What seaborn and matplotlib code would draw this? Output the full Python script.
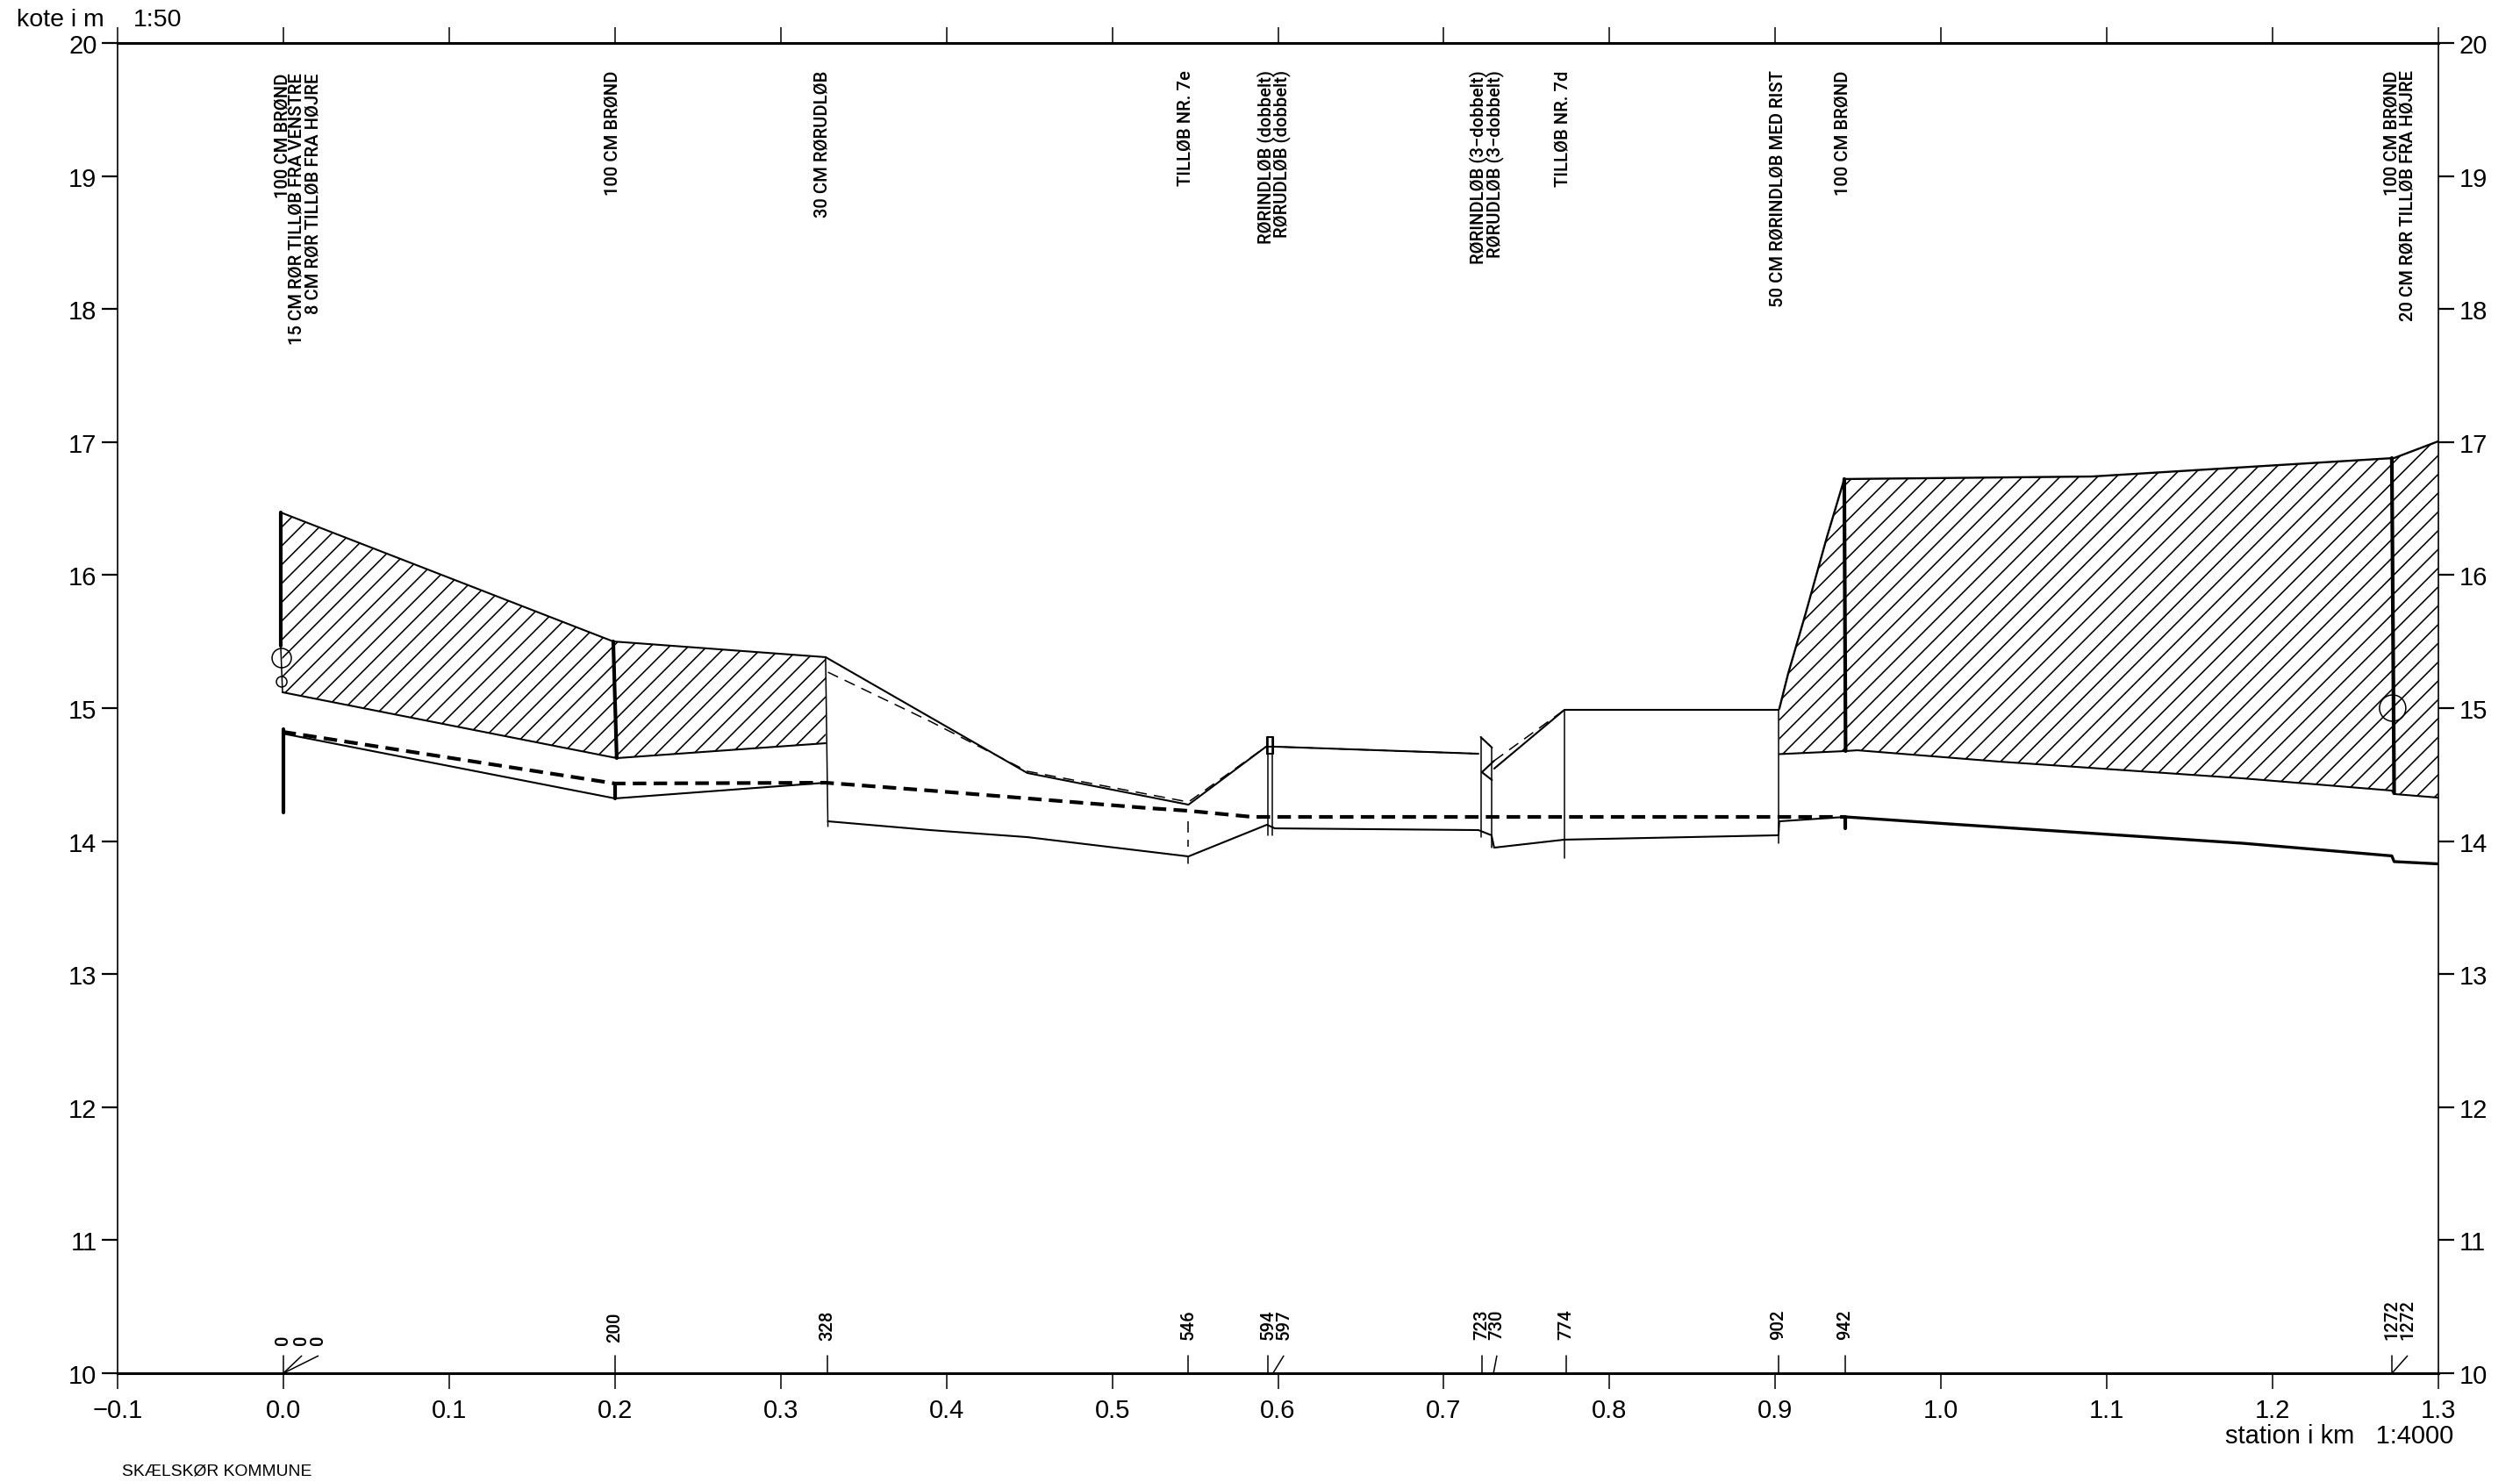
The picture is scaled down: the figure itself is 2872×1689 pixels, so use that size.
import numpy as np
import matplotlib
matplotlib.use("Agg")
import matplotlib.pyplot as plt
import seaborn as sns

# --- axes labels
x_ticks = [-0.1, 0.0, 0.1, 0.2, 0.3, 0.4, 0.5, 0.6, 0.7, 0.8, 0.9, 1.0, 1.1, 1.2, 1.3]
x_tick_labels = ["\u22120.1", "0.0", "0.1", "0.2", "0.3", "0.4", "0.5", "0.6", "0.7", "0.8", "0.9", "1.0", "1.1", "1.2", "1.3"]
y_ticks = [10, 11, 12, 13, 14, 15, 16, 17, 18, 19, 20]

# --- hatched cover bands
band1_top_x = [-0.0016, 0.199, 0.3271]
band1_top_y = [16.471, 15.501, 15.383]
band1_bot_x = [-0.0005, 0.2011, 0.3271]
band1_bot_y = [15.119, 14.624, 14.736]

band2_top_x = [0.9024, 0.9077, 0.9183, 0.9310, 0.9416, 1.0909, 1.2733, 1.2998]
band2_top_y = [14.994, 15.257, 15.712, 16.280, 16.722, 16.741, 16.880, 17.005]
band2_bot_x = [0.9024, 0.9424, 0.9495, 1.0348, 1.1819, 1.2719, 1.2733, 1.2998]
band2_bot_y = [14.654, 14.677, 14.683, 14.598, 14.472, 14.380, 14.354, 14.327]

# --- terrain line and its dashed companion
terrain1_x = [0.3271, 0.4488, 0.5460, 0.5928, 0.5981, 0.7209]
terrain1_y = [15.383, 14.512, 14.274, 14.710, 14.710, 14.657]
terrain2_x = [0.7304, 0.7728, 0.9019]
terrain2_y = [14.545, 14.987, 14.987]
terrain_dash_x = [0.3285, 0.3901, 0.4488, 0.5460, 0.5928, 0.5981, 0.7209]
terrain_dash_y = [15.270, 14.901, 14.525, 14.294, 14.710, 14.710, 14.657]
terrain_dash2_x = [0.7304, 0.7728]
terrain_dash2_y = [14.604, 14.987]

# --- pipe invert
invert1_x = [-0.0005, 0.2001, 0.3271]
invert1_y = [14.809, 14.321, 14.439]
invert2_x = [0.3285, 0.3901, 0.4488, 0.5460, 0.5933, 0.5981, 0.7209, 0.7288, 0.7304, 0.7728, 0.9019, 0.9024, 0.9424]
invert2_y = [14.149, 14.083, 14.030, 13.885, 14.123, 14.096, 14.083, 14.044, 13.951, 14.011, 14.044, 14.149, 14.182]

# --- water level (thick dashed, then merged with the invert)
water_x = [-0.0005, 0.2001, 0.3271, 0.3901, 0.5219, 0.5460, 0.5846, 0.9424]
water_y = [14.822, 14.433, 14.439, 14.380, 14.248, 14.228, 14.182, 14.182]
water_end_x = [0.9424, 1.0051, 1.1819, 1.2719, 1.2733, 1.2998]
water_end_y = [14.182, 14.129, 13.984, 13.889, 13.846, 13.829]

# --- structure verticals: x0, y0, x1, y1
thick_x0 = [-0.0016, 0.0000, 0.1990, 0.2001, 0.9416, 1.2719, 0.9424]
thick_y0 = [16.471, 14.842, 15.501, 14.433, 16.722, 16.880, 14.182]
thick_x1 = [-0.0016, 0.0000, 0.2011, 0.2001, 0.9424, 1.2733, 0.9424]
thick_y1 = [15.468, 14.215, 14.624, 14.321, 14.677, 14.360, 14.096]
thin_x0 = [-0.0016, 0.3271, 0.5460, 0.5939, 0.5963, 0.7223, 0.7291, 0.7728, 0.9019]
thin_y0 = [15.468, 15.383, 13.885, 14.782, 14.782, 14.782, 14.703, 14.987, 14.987]
thin_x1 = [-0.0005, 0.3285, 0.5460, 0.5939, 0.5963, 0.7223, 0.7291, 0.7728, 0.9019]
thin_y1 = [15.119, 14.110, 13.832, 14.044, 14.044, 14.030, 13.951, 13.872, 13.984]

well_x = [0.5933, 0.5933, 0.5973, 0.5973, 0.5933]
well_y = [14.657, 14.782, 14.782, 14.657, 14.657]
tri_x = [0.7223, 0.7291]
tri_y = [14.782, 14.703]
rhomb_x = [0.7304, 0.7230, 0.7291]
rhomb_y = [14.604, 14.518, 14.459]
dash_stub_x = [0.5460, 0.5460]
dash_stub_y = [14.149, 13.96]

circle_x = [-0.0010, -0.0010, 1.2724]
circle_y = [15.376, 15.198, 15.000]
circle_s = [250, 75, 467]

# --- top annotations
top_labels = ["100 CM BR\u00d8ND", "15 CM R\u00d8R TILL\u00d8B FRA VENSTRE", "8 CM R\u00d8R TILL\u00d8B FRA H\u00d8JRE",
              "100 CM BR\u00d8ND", "30 CM R\u00d8RUDL\u00d8B", "TILL\u00d8B NR. 7e",
              "R\u00d8RINDL\u00d8B (dobbelt)", "R\u00d8RUDL\u00d8B (dobbelt)",
              "R\u00d8RINDL\u00d8B (3\u2212dobbelt)", "R\u00d8RUDL\u00d8B (3\u2212dobbelt)", "TILL\u00d8B NR. 7d",
              "50 CM R\u00d8RINDL\u00d8B MED RIST", "100 CM BR\u00d8ND", "100 CM BR\u00d8ND", "20 CM R\u00d8R TILL\u00d8B FRA H\u00d8JRE"]
top_label_x = [-0.0005, 0.0079, 0.018, 0.1985, 0.3252, 0.5441, 0.5928, 0.6023, 0.7209, 0.7309, 0.7717, 0.9014, 0.9405, 1.2719, 1.2814]
top_label_y = [19.78, 19.78, 19.78, 19.80, 19.80, 19.80, 19.80, 19.80, 19.80, 19.80, 19.80, 19.80, 19.80, 19.80, 19.80]

# --- stations along the bottom
stations = ["0", "0", "0", "200", "328", "546", "594", "597", "723", "730", "774", "902", "942", "1272", "1272"]
station_x = [0.0, 0.0, 0.0, 0.200, 0.328, 0.546, 0.594, 0.597, 0.723, 0.730, 0.774, 0.902, 0.942, 1.272, 1.272]
station_label_x = [0.0, 0.011, 0.021, 0.200, 0.328, 0.546, 0.594, 0.6034, 0.723, 0.7320, 0.774, 0.902, 0.942, 1.272, 1.2813]
station_label_y = [10.22, 10.22, 10.22, 10.24, 10.25, 10.26, 10.26, 10.26, 10.26, 10.26, 10.26, 10.26, 10.26, 10.26, 10.26]

W, H = 2872, 1690
L, R, T, B = 134, 2779, 50, 1566

sns.set_theme(style="white", rc={"axes.edgecolor": "black"})
plt.rcParams["font.family"] = ["Liberation Sans", "DejaVu Sans"]

fig = plt.figure(figsize=(W / 100, H / 100), dpi=100, facecolor="white")
ax = fig.add_axes([L / W, 1 - B / H, (R - L) / W, (B - T) / H])
ax.set_xlim(-0.1, 1.3)
ax.set_ylim(10, 20)


def trace(xs, ys, lw=1.3, ls="-"):
    sns.lineplot(x=np.array(xs), y=np.array(ys), sort=False, estimator=None, errorbar=None,
                 color="black", linewidth=lw, linestyle=ls, ax=ax, legend=False)


def hatch_band(tx, ty, bx, by):
    px = list(tx) + list(bx)[::-1]
    py = list(ty) + list(by)[::-1]
    poly = ax.fill(px, py, facecolor="none", edgecolor="none")[0]
    # 45 degree screen-space hatch, about 21.4 px apart horizontally
    slope = ((R - L) / 1.4) / ((B - T) / 10.0)
    for x0 in np.arange(0.4970 - 0.01133 * 130, 1.45, 0.01133):
        ln = ax.axline((x0, 10.0), slope=slope, color="black", lw=1.15)
        ln.set_clip_path(poly)


hatch_band(band1_top_x, band1_top_y, band1_bot_x, band1_bot_y)
hatch_band(band2_top_x, band2_top_y, band2_bot_x, band2_bot_y)

for xs, ys in [(band1_top_x, band1_top_y), (band1_bot_x, band1_bot_y),
               (band2_bot_x, band2_bot_y), (terrain1_x, terrain1_y), (terrain2_x, terrain2_y),
               (invert1_x, invert1_y), (invert2_x, invert2_y),
               (well_x, well_y), (tri_x, tri_y), (rhomb_x, rhomb_y)]:
    trace(xs, ys, lw=1.5)
trace(band2_top_x, band2_top_y, lw=1.7)
trace(terrain_dash_x, terrain_dash_y, lw=1.1, ls=(0, (8.4, 5.4)))
trace(terrain_dash2_x, terrain_dash2_y, lw=1.1, ls=(0, (8.4, 5.4)))
trace(dash_stub_x, dash_stub_y, lw=1.1, ls=(0, (8.4, 5.4)))
trace(water_x, water_y, lw=3.0, ls=(0, (3.7, 2.0)))
trace(water_end_x, water_end_y, lw=2.4)

for x0, y0, x1, y1 in zip(thick_x0, thick_y0, thick_x1, thick_y1):
    trace([x0, x1], [y0, y1], lw=3.0)
for x0, y0, x1, y1 in zip(thin_x0, thin_y0, thin_x1, thin_y1):
    trace([x0, x1], [y0, y1], lw=1.1)

for x, y, s in zip(circle_x, circle_y, circle_s):
    ax.scatter([x], [y], s=s, facecolors="none", edgecolors="black", linewidths=1.1, zorder=4)

label_font = dict(fontsize=14.6, family=["Roboto", "DejaVu Sans"], fontweight="medium", color="black")
for s, x, y in zip(top_labels, top_label_x, top_label_y):
    ax.text(x, y, s, rotation=90, ha="center", va="top", **label_font)

for s, x, lx, y in zip(stations, station_x, station_label_x, station_label_y):
    ax.text(lx, y, s, rotation=90, ha="center", va="bottom", **label_font)
    trace([x, lx], [10.0, 10.13], lw=1.1)

ax.set_xticks(x_ticks)
ax.set_xticklabels(x_tick_labels)
ax.set_yticks(y_ticks)
ax.tick_params(axis="x", which="major", direction="out", length=13, width=1.1, top=True, bottom=True,
               labeltop=False, labelbottom=True, labelsize=21, pad=7, color="black", labelcolor="black")
ax.tick_params(axis="y", which="major", direction="out", length=13, width=1.6, left=True, right=True,
               labelleft=True, labelright=True, labelsize=21, pad=4, color="black", labelcolor="black")
for side, lw in [("top", 2.2), ("bottom", 2.2), ("left", 1.2), ("right", 1.2)]:
    ax.spines[side].set_visible(True)
    ax.spines[side].set_linewidth(lw)
    ax.spines[side].set_color("black")
ax.grid(False)
ax.set_xlabel("")
ax.set_ylabel("")

fig.text(19 / W, 1 - 23 / H, "kote i m", fontsize=20.5, va="center", ha="left", color="black")
fig.text(152 / W, 1 - 23 / H, "1:50", fontsize=20.5, va="center", ha="left", color="black")
fig.text(2796 / W, 1 - 1637 / H, "station i km   1:4000", fontsize=21, va="center", ha="right", color="black")
fig.text(139 / W, 1 - 1677 / H, "SK\u00c6LSK\u00d8R KOMMUNE", fontsize=13.9, va="center", ha="left", color="black")

fig.savefig("out.png", dpi=100, facecolor="white")
